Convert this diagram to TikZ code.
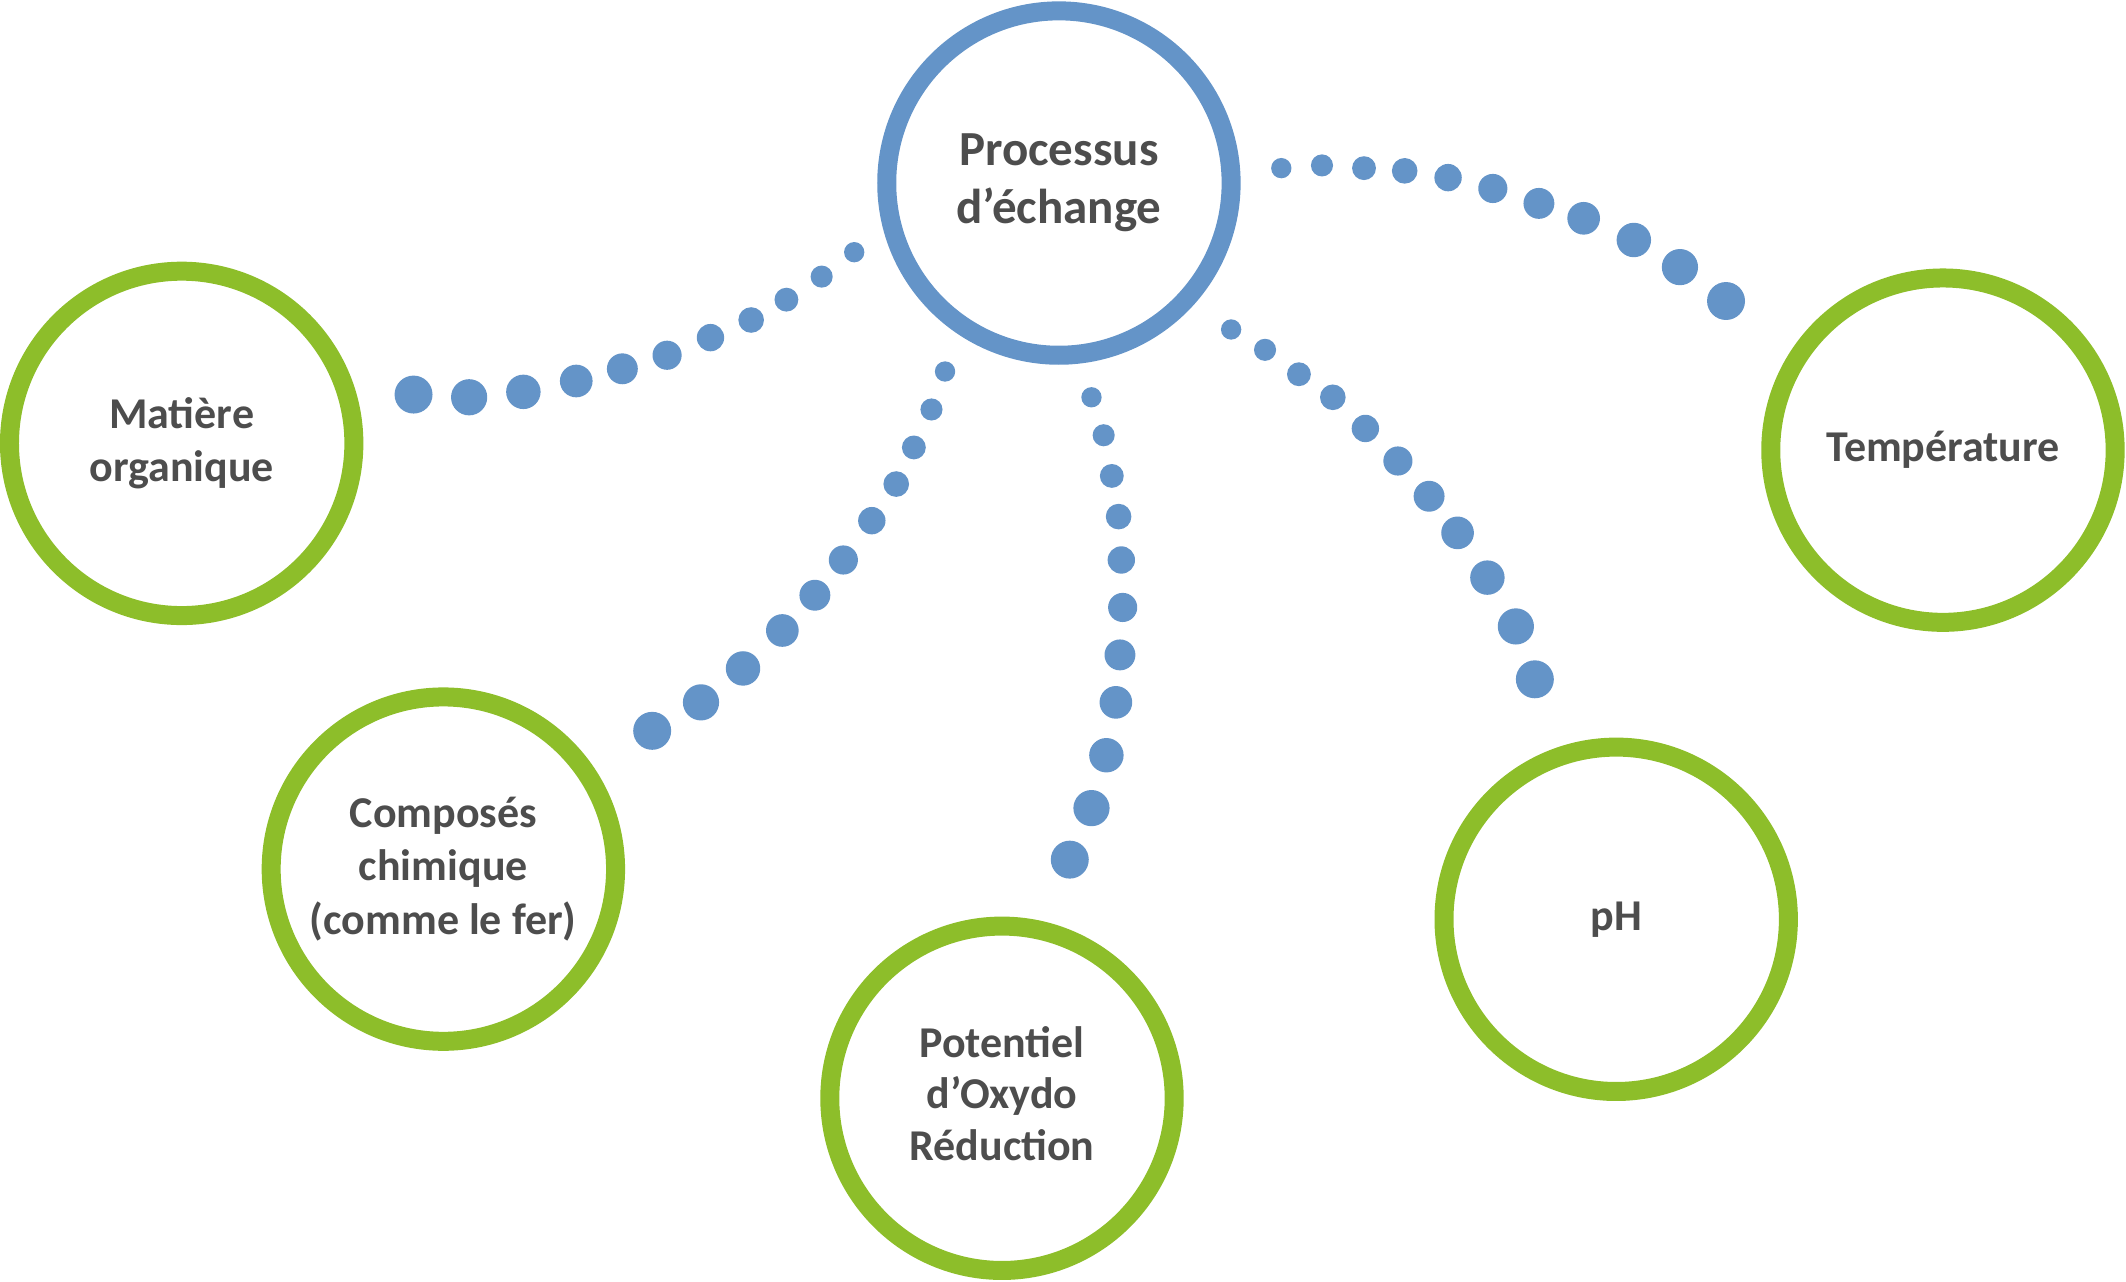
\documentclass[tikz,border=0pt]{standalone}
\usepackage{fontspec}
\setmainfont{Carlito}
\definecolor{dotblue}{HTML}{6494C8}
\definecolor{ringblue}{HTML}{6494C8}
\definecolor{ringgreen}{HTML}{8DBE2A}
\definecolor{txt}{HTML}{4D4D4D}
\newcommand\dotchain[2]{%
  \foreach \x/\y [count=\i] in {#2} {%
    \pgfmathsetmacro\dsz{2*(7.5+0.65*(\i-1))*0.67795}%
    \node[dotnode, minimum size=\dsz pt] (#1-\i) at (\x,\y) {};
  }}
\begin{document}
\begin{tikzpicture}[x=0.67795pt,y=-0.67795pt,
  ring/.style={circle, line width=9.5pt, minimum size=172.2pt, inner sep=0pt,
    align=center, text=txt, font=\fontsize{22}{26.8}\selectfont\bfseries},
  hub/.style={ring, draw=ringblue, font=\fontsize{24.5}{29}\selectfont\bfseries},
  leaf/.style={ring, draw=ringgreen},
  dotnode/.style={circle, fill=dotblue, inner sep=0pt, draw=none}]
\useasboundingbox (0,0) rectangle (1568,945);

\node[hub]  (proc) at (781,135) {Processus\\d’échange};
\node[leaf] (mat)  at (134,327) {Matière\\organique};
\node[leaf] (comp) at (327,641) {Composés\\chimique\\(comme le fer)};
\node[leaf] (pot)  at (739,810) {\raisebox{3pt}{\begin{tabular}{@{}c@{}}Potentiel\\[-1.2pt]d’Oxydo\\[-1.2pt]Réduction\end{tabular}}};
\node[leaf] (ph)   at (1192,678) {pH};
\node[leaf] (temp) at (1433,332) {Température};

\dotchain{m}{630/186,606/204,580/221,554/236,524/249,492/262,459/272,425/281,386/289,346/293,305/291}
\dotchain{c}{697/274,687/302,674/330,661/357,643/384,622/413,601/439,577/465,548/493,517/518,481/539}
\dotchain{p}{805/293,814/321,820/351,825/381,827/413,828/448,826/483,823/518,816/557,805/596,789/634}
\dotchain{h}{908/243,933/258,958/276,983/293,1007/316,1031/340,1054/366,1075/393,1097/426,1118/462,1132/501}
\dotchain{t}{945/124,975/122,1006/124,1036/126,1068/131,1101/139,1135/150,1168/161,1205/177,1239/197,1273/222}
\end{tikzpicture}
\end{document}
